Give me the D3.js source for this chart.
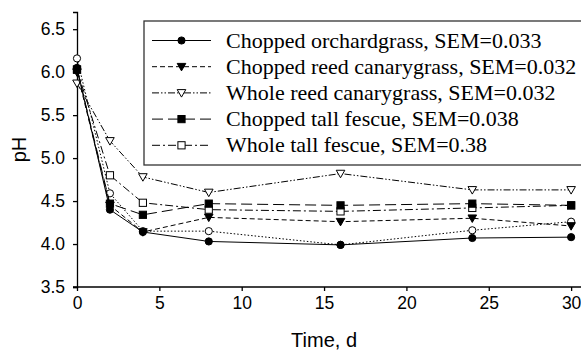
<!DOCTYPE html>
<html>
<head>
<meta charset="utf-8">
<style>
body, html {
	margin: 0;
	background: #fff;
}
svg text { fill: #000; }
</style>
</head>
<body>
<div id="chartContainer"></div>
<script src="https://cdnjs.cloudflare.com/ajax/libs/d3/7.8.5/d3.min.js"></script>
<script>

const WIDTH = 581;
const HEIGHT = 350;

// sampling days
const days = [0, 2, 4, 8, 16, 24, 30];

const seriesNames = [
	"Chopped orchardgrass, SEM=0.033",
	"Chopped reed canarygrass, SEM=0.032",
	"Whole reed canarygrass, SEM=0.032",
	"Chopped tall fescue, SEM=0.038",
	"Whole tall fescue, SEM=0.38",
	""
];

const choppedOrchard = [6.05, 4.40, 4.14, 4.03, 3.99, 4.07, 4.08];
const choppedReed    = [6.00, 4.45, 4.14, 4.31, 4.26, 4.30, 4.21];
const wholeReed      = [5.87, 5.20, 4.78, 4.60, 4.82, 4.63, 4.63];
const choppedFescue  = [6.03, 4.47, 4.34, 4.47, 4.45, 4.47, 4.45];
const wholeFescue    = [6.03, 4.80, 4.48, 4.40, 4.38, 4.42, 4.45];
const unlabelled     = [6.16, 4.59, 4.15, 4.15, 3.99, 4.16, 4.26];

const xTicks = [0, 5, 10, 15, 20, 25, 30];
const yTicks = [3.5, 4.0, 4.5, 5.0, 5.5, 6.0, 6.5];

const seriesValues = [choppedOrchard, choppedReed, wholeReed, choppedFescue, wholeFescue, unlabelled];

// line / marker styles per series
const styles = [
	{dash: null,            marker: "circle",   fill: "#000"},
	{dash: "5,3",           marker: "triangle", fill: "#000"},
	{dash: "7,2,1.5,2,1.5,2", marker: "triangle", fill: "#fff"},
	{dash: "11,5",          marker: "square",   fill: "#000"},
	{dash: "8,3,2,3",       marker: "square",   fill: "#fff"},
	{dash: "1.5,2",         marker: "circle",   fill: "#fff"}
];

const margin = {top: 12, left: 77, bottom: 63};

const x = d3.scaleLinear().domain([0, 30.6]).range([margin.left, WIDTH]);
const y = d3.scaleLinear().domain([3.5, 6.7]).range([HEIGHT - margin.bottom, margin.top]);

var svg = d3.select("#chartContainer").append("svg")
	.attr("width", WIDTH)
	.attr("height", HEIGHT);

// axes
var xAxis = svg.append("g")
	.attr("transform", `translate(0,${y(3.5)})`)
	.call(d3.axisBottom(x).tickValues(xTicks).tickFormat(d3.format("d")).tickSizeOuter(0).tickSize(4).tickPadding(6));

var yAxis = svg.append("g")
	.attr("transform", `translate(${x(0)},0)`)
	.call(d3.axisLeft(y).tickValues(yTicks).tickFormat(d3.format(".1f")).tickSizeOuter(0).tickSize(4).tickPadding(8));

[xAxis, yAxis].forEach(function(a) {
	a.select(".domain").attr("stroke", "#000").attr("stroke-width", 1.3);
	a.selectAll(".tick line").attr("stroke", "#000").attr("stroke-width", 1.3);
	a.selectAll(".tick text")
		.attr("font-family", "Liberation Sans, Arial, sans-serif")
		.attr("font-size", "17.5px")
		.attr("fill", "#000");
});
// extend the x axis line a little left over the y axis
xAxis.select(".domain").attr("d", `M${x(0) - 4},0H${WIDTH}`);

svg.append("text")
	.attr("x", (x(0) + x(30)) / 2)
	.attr("y", 347)
	.attr("text-anchor", "middle")
	.attr("font-family", "Liberation Sans, Arial, sans-serif")
	.attr("font-size", "20px")
	.text("Time, d");

svg.append("text")
	.attr("transform", `translate(26,${(y(3.5) + y(6.7)) / 2}) rotate(-90)`)
	.attr("text-anchor", "middle")
	.attr("font-family", "Liberation Sans, Arial, sans-serif")
	.attr("font-size", "20px")
	.text("pH");

function drawMarker(g, type, fill, cx, cy) {
	if (type === "circle") {
		g.append("circle").attr("cx", cx).attr("cy", cy).attr("r", 3.6)
			.attr("fill", fill).attr("stroke", "#000").attr("stroke-width", 1);
	} else if (type === "square") {
		g.append("rect").attr("x", cx - 3.6).attr("y", cy - 3.6).attr("width", 7.2).attr("height", 7.2)
			.attr("fill", fill).attr("stroke", "#000").attr("stroke-width", 1);
	} else {
		g.append("path").attr("d", `M${cx - 4.3},${cy - 3.3}L${cx + 4.3},${cy - 3.3}L${cx},${cy + 4.2}Z`)
			.attr("fill", fill).attr("stroke", "#000").attr("stroke-width", 1);
	}
}

var line = d3.line()
	.x((d, i) => x(days[i]))
	.y((d) => y(d));

var plot = svg.append("g").attr("class", "series");

// draw in reverse so the first series sits on top
for (let s = seriesValues.length - 1; s >= 0; s--) {
	const g = plot.append("g");
	g.append("path")
		.attr("d", line(seriesValues[s]))
		.attr("fill", "none")
		.attr("stroke", "#000")
		.attr("stroke-width", 1)
		.attr("stroke-dasharray", styles[s].dash);
	seriesValues[s].forEach(function(v, i) {
		drawMarker(g, styles[s].marker, styles[s].fill, x(days[i]), y(v));
	});
}

// legend
const legendX = 144, legendY = 21, rowH = 26.2;
var legend = svg.append("g").attr("class", "legend");
legend.append("rect")
	.attr("x", legendX).attr("y", legendY)
	.attr("width", WIDTH - legendX + 5).attr("height", 144)
	.attr("fill", "#fff").attr("stroke", "#333").attr("stroke-width", 1.3);

seriesNames.forEach(function(name, s) {
	if (!name) return;
	const cy = legendY + 19.5 + s * rowH;
	legend.append("line")
		.attr("x1", legendX + 8).attr("x2", legendX + 67)
		.attr("y1", cy).attr("y2", cy)
		.attr("stroke", "#000").attr("stroke-width", 1)
		.attr("stroke-dasharray", styles[s].dash);
	drawMarker(legend, styles[s].marker, styles[s].fill, legendX + 37.5, cy);
	legend.append("text")
		.attr("x", legendX + 82).attr("y", cy + 7)
		.attr("font-family", "Liberation Serif, Times New Roman, serif")
		.attr("font-size", "22px")
		.text(name);
});

</script>
</body>
</html>
